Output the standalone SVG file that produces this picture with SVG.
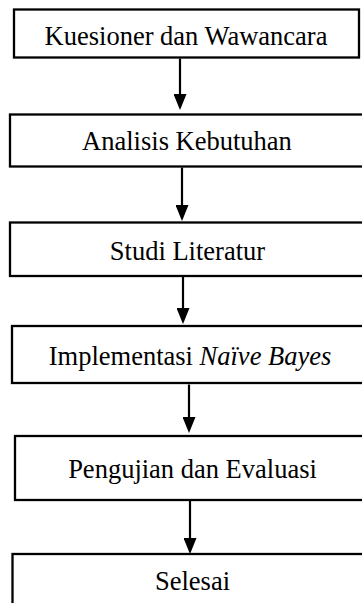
<svg xmlns="http://www.w3.org/2000/svg" width="362" height="603" viewBox="0 0 362 603">
<style>
.box{fill:#fff;stroke:#000;stroke-width:2.3}
.lbl{font-family:"Liberation Serif","Times New Roman",serif;font-size:26.5px;fill:#000;text-anchor:middle}
.conn{stroke:#000;stroke-width:2.2;fill:none;marker-end:url(#ah)}
</style>
<defs>
<marker id="ah" markerUnits="userSpaceOnUse" markerWidth="16" markerHeight="13" refX="13" refY="6.5" orient="auto" viewBox="0 0 16 13">
<path d="M0,0 L16,6.5 L0,13 Z" fill="#000"/>
</marker>
</defs>
<rect width="362" height="603" fill="#fff"/>
<g id="n1"><rect class="box" x="14" y="9.5" width="345" height="48"/><text class="lbl" x="186" y="45">Kuesioner dan Wawancara</text></g>
<g id="n2"><rect class="box" x="10" y="114.5" width="360" height="52"/><text class="lbl" x="187" y="150">Analisis Kebutuhan</text></g>
<g id="n3"><rect class="box" x="10" y="222.5" width="360" height="53.5"/><text class="lbl" x="187.5" y="260">Studi Literatur</text></g>
<g id="n4"><rect class="box" x="12" y="326" width="360" height="57"/><text class="lbl" x="190" y="365">Implementasi <tspan font-style="italic">Naïve Bayes</tspan></text></g>
<g id="n5"><rect class="box" x="15" y="436" width="360" height="64"/><text class="lbl" x="192.5" y="478">Pengujian dan Evaluasi</text></g>
<g id="n6"><rect class="box" x="12.5" y="554" width="360" height="60"/><text class="lbl" x="192.5" y="590">Selesai</text></g>
<g id="connectors">
<line class="conn" x1="180" y1="58.5" x2="180" y2="107"/>
<line class="conn" x1="182" y1="167.5" x2="182" y2="218"/>
<line class="conn" x1="183" y1="277" x2="183" y2="321"/>
<line class="conn" x1="189" y1="384.5" x2="189" y2="430"/>
<line class="conn" x1="190" y1="501" x2="190" y2="551"/>
</g>
</svg>
